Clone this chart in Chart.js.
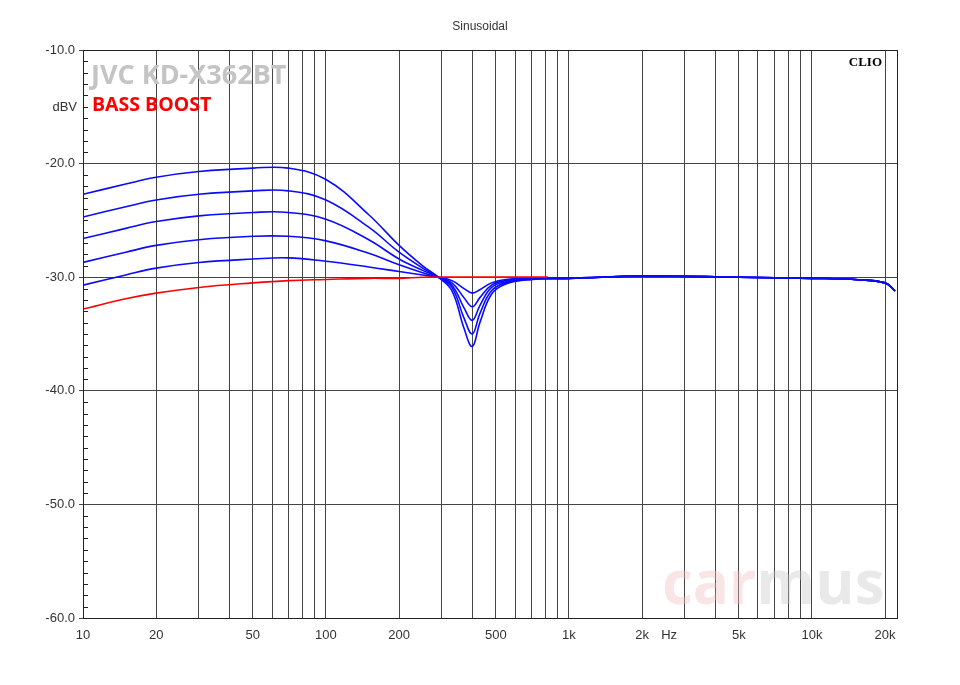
<!DOCTYPE html>
<html>
<head>
<meta charset="utf-8">
<script src="https://cdn.jsdelivr.net/npm/chart.js@4.4.1/dist/chart.umd.min.js"></script>
<style>
  body { margin: 0; background: #fff; }
  #wrap { width: 960px; height: 685px; position: relative; }
</style>
</head>
<body>
<div id="wrap"><canvas id="clio"></canvas></div>
<script>
// frequencies (Hz) and levels (dBV)
const freqs = [10, 15, 20, 30, 50, 70, 100, 150, 200, 250, 290, 330, 370, 400, 430, 480, 550, 700, 1000, 2000, 5000, 10000, 15000, 20000, 22000];
const boost5 = [-22.7, -21.8, -21.2, -20.7, -20.4, -20.4, -21.4, -24.5, -27.2, -29.0, -30.0, -31.2, -34.5, -36.1, -34.0, -31.5, -30.6, -30.2, -30.1, -29.9, -30.0, -30.1, -30.2, -30.5, -31.2];
const boost4 = [-24.7, -23.8, -23.2, -22.7, -22.4, -22.4, -23.2, -25.6, -27.8, -29.2, -30.0, -30.9, -33.6, -35.0, -33.2, -31.2, -30.5, -30.2, -30.1, -29.9, -30.0, -30.1, -30.2, -30.5, -31.2];
const boost3 = [-26.6, -25.7, -25.1, -24.6, -24.3, -24.3, -24.9, -26.7, -28.4, -29.4, -30.0, -30.7, -32.7, -33.8, -32.5, -30.9, -30.4, -30.1, -30.1, -29.9, -30.0, -30.1, -30.2, -30.5, -31.2];
const boost2 = [-28.7, -27.8, -27.2, -26.7, -26.4, -26.4, -26.8, -27.9, -28.9, -29.6, -30.0, -30.5, -31.8, -32.6, -31.8, -30.7, -30.3, -30.1, -30.1, -29.9, -30.0, -30.1, -30.2, -30.5, -31.2];
const boost1 = [-30.7, -29.8, -29.2, -28.7, -28.4, -28.3, -28.6, -29.1, -29.5, -29.8, -30.0, -30.3, -31.0, -31.4, -31.1, -30.5, -30.2, -30.1, -30.1, -29.9, -30.0, -30.1, -30.2, -30.5, -31.2];
const flatFreqs = [10, 15, 20, 30, 50, 70, 100, 150, 200, 250, 290, 400, 600, 820];
const flat = [-32.8, -31.9, -31.4, -30.9, -30.5, -30.3, -30.2, -30.1, -30.1, -30.0, -30.0, -30.0, -30.0, -30.0];

const gridFreqs = [10, 20, 30, 40, 50, 60, 70, 80, 90, 100, 200, 300, 400, 500, 600, 700, 800, 900,
  1000, 2000, 3000, 4000, 5000, 6000, 7000, 8000, 9000, 10000, 20000];
const freqLabels = { 10: '10', 20: '20', 50: '50', 100: '100', 200: '200', 500: '500', 1000: '1k', 2000: '2k', 5000: '5k', 10000: '10k', 20000: '20k' };
const yTicks = [-10, -20, -30, -40, -50, -60];

const toPts = (xs, ys) => xs.map((f, i) => ({ x: f, y: ys[i] }));
const blue = (ys) => ({ data: toPts(freqs, ys), borderColor: '#0a0aff', borderWidth: 1.6, pointRadius: 0, tension: 0.4, fill: false });

// labels, minor ticks and watermark
const decor = {
  id: 'decor',
  afterDraw(chart) {
    const { ctx, chartArea: a, scales: { x, y } } = chart;
    ctx.save();
    ctx.strokeStyle = '#222';
    ctx.lineWidth = 1;
    for (let v = -11; v > -60; v--) {
      if (v % 10 === 0) continue;
      const py = Math.round(y.getPixelForValue(v)) + 0.5;
      ctx.beginPath(); ctx.moveTo(a.left, py); ctx.lineTo(a.left + 5, py); ctx.stroke();
    }
    ctx.strokeRect(a.left + 0.5, a.top + 0.5, a.right - a.left, a.bottom - a.top);
    ctx.fillStyle = '#333';
    ctx.font = '12px "Liberation Sans", Arial';
    ctx.textAlign = 'center';
    ctx.fillText('Sinusoidal', 480, 30);
    ctx.font = '13px "Liberation Sans", Arial';
    ctx.textBaseline = 'middle';
    ctx.fillText('Hz', x.getPixelForValue(2000) + 27, a.bottom + 17);
    ctx.textBaseline = 'alphabetic';
    ctx.textAlign = 'right';
    ctx.fillText('dBV', a.left - 6, 111);
    ctx.textAlign = 'left';
    ctx.font = 'bold 27px "Open Sans", "DejaVu Sans"';
    ctx.fillStyle = '#c4c4c4';
    ctx.fillText('JVC KD-X362BT', 91, 84);
    ctx.font = 'bold 19.5px "Open Sans", "DejaVu Sans"';
    ctx.fillStyle = '#ff0000';
    ctx.fillText('BASS BOOST', 92, 111);
    ctx.font = 'bold 13px "Liberation Serif", serif';
    ctx.fillStyle = '#000';
    ctx.textAlign = 'right';
    ctx.fillText('CLIO', a.right - 15, 66);
    ctx.font = 'bold 60px "Open Sans", "DejaVu Sans"';
    ctx.fillStyle = 'rgba(240, 190, 190, 0.4)';
    ctx.textAlign = 'left';
    ctx.fillText('car', 662, 604);
    ctx.fillStyle = 'rgba(200, 200, 200, 0.4)';
    ctx.fillText('mus', 662 + ctx.measureText('car').width, 604);
    ctx.restore();
  }
};

new Chart(document.getElementById('clio'), {
  type: 'line',
  data: {
    datasets: [
      { data: toPts(flatFreqs, flat), borderColor: '#ff0000', borderWidth: 1.6, pointRadius: 0, tension: 0.4, fill: false },
      blue(boost1), blue(boost2), blue(boost3), blue(boost4), blue(boost5),
      { data: toPts(flatFreqs, flat).slice(10), borderColor: '#ff0000', borderWidth: 1.6, pointRadius: 0, tension: 0.4, fill: false }
    ]
  },
  options: {
    responsive: true,
    maintainAspectRatio: false,
    animation: false,
    layout: { padding: { top: 50, right: 63, left: 0, bottom: 0 } },
    plugins: { legend: { display: false }, tooltip: { enabled: false } },
    scales: {
      x: {
        type: 'logarithmic',
        min: 10,
        max: 22400,
        afterBuildTicks: (s) => { s.ticks = gridFreqs.map(v => ({ value: v })); },
        afterFit: (s) => { s.height = 67; },
        ticks: {
          autoSkip: false, maxRotation: 0, color: '#333', padding: 10,
          font: { family: '"Liberation Sans", Arial', size: 13 },
          callback: (v) => freqLabels[v] || ''
        },
        grid: { color: '#444', lineWidth: 1, drawTicks: false },
        border: { color: '#222' }
      },
      y: {
        min: -60,
        max: -10,
        afterBuildTicks: (s) => { s.ticks = yTicks.map(v => ({ value: v })); },
        afterFit: (s) => { s.width = 83; },
        ticks: {
          color: '#333', padding: 4,
          font: { family: '"Liberation Sans", Arial', size: 13 },
          callback: (v) => v.toFixed(1)
        },
        grid: { color: '#444', lineWidth: 1, drawTicks: true, tickLength: 4 },
        border: { color: '#222' }
      }
    }
  },
  plugins: [decor]
});
</script>
</body>
</html>
